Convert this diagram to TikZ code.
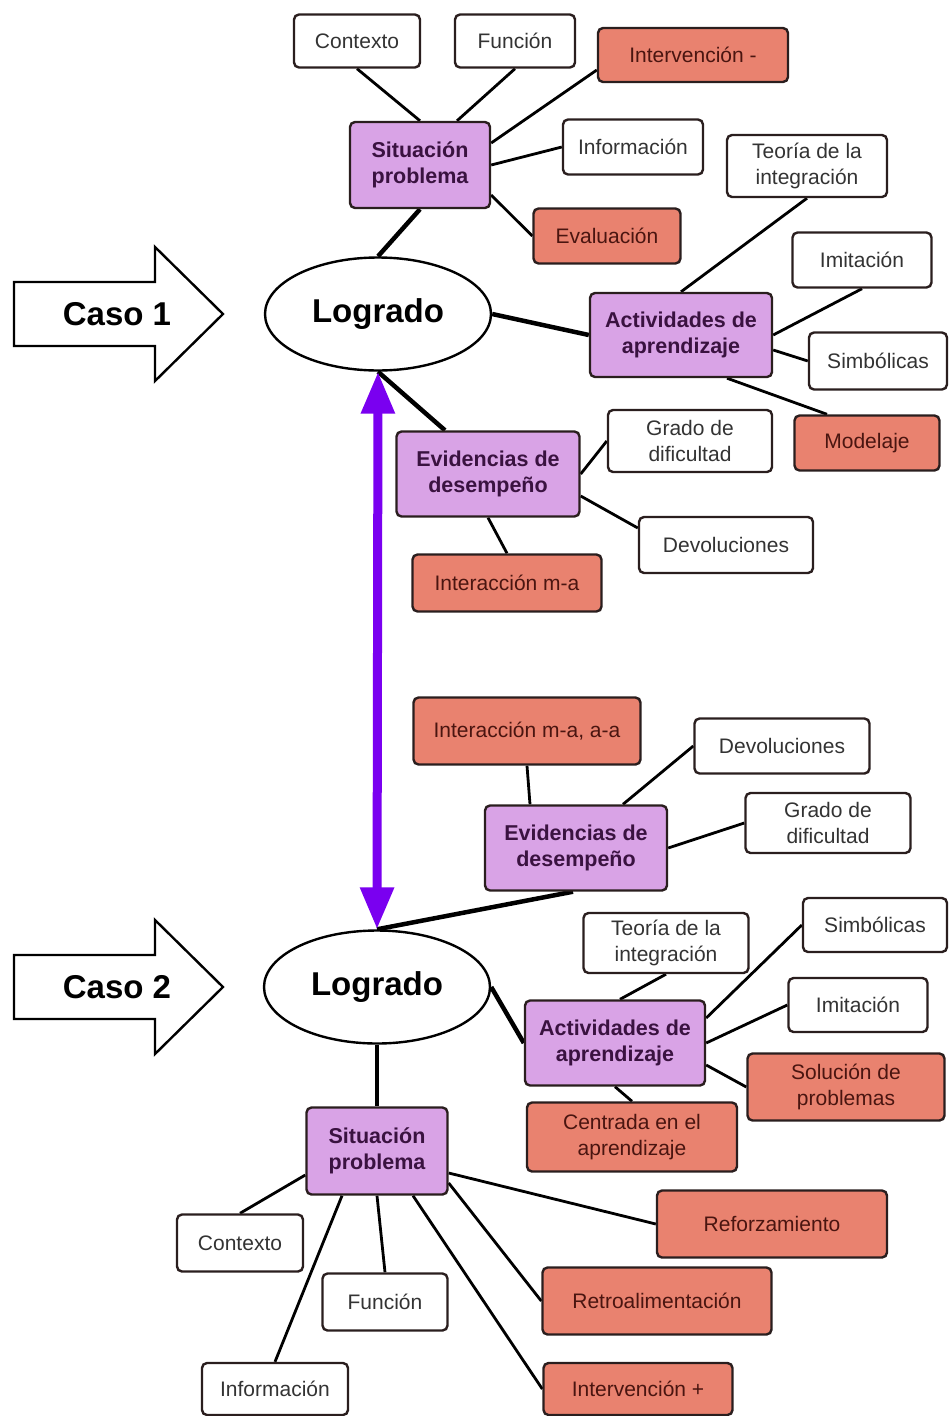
\documentclass[tikz,border=0pt]{standalone}
\usepackage{fontspec}
\setmainfont{Liberation Sans}
\usetikzlibrary{arrows.meta,calc,backgrounds,shapes.geometric}
\definecolor{purp}{HTML}{D9A3E6}
\definecolor{salm}{HTML}{E9826F}
\definecolor{bord}{HTML}{2A1E1E}
\definecolor{purptext}{HTML}{3A1240}
\definecolor{salmtext}{HTML}{4A1510}
\definecolor{graytext}{HTML}{333333}
\definecolor{arrowviolet}{HTML}{7A00F0}
\begin{document}
\begin{tikzpicture}[x=1pt,y=-1pt,
  base/.style={draw=bord, line width=2.4pt, rounded corners=5pt, inner sep=0pt, align=center, font=\fontsize{21}{26}\selectfont},
  wbox/.style={base, fill=white, text=graytext},
  sbox/.style={base, fill=salm, text=salmtext},
  pbox/.style={base, fill=purp, text=purptext, font=\fontsize{21.5}{26}\selectfont\bfseries},
  sz/.style 2 args={minimum width=#1pt, minimum height=#2pt},
  oval/.style={ellipse, draw=black, line width=2.4pt, fill=white, inner sep=0pt, minimum width=226pt, minimum height=113pt, font=\fontsize{33}{36}\selectfont\bfseries},
  casearrow/.style={draw=black, line width=2.4pt, fill=white, line join=miter},
  casetext/.style={inner sep=0pt, font=\fontsize{33}{36}\selectfont\bfseries},
  lnk/.style={line width=2.8pt, draw=black},
  mainlnk/.style={line width=4.5pt, draw=black},
  dbl/.style={line width=9pt, draw=arrowviolet, {Triangle[width=32pt,length=42pt]}-{Triangle[width=32pt,length=42pt]}}
]
\useasboundingbox (0,0) rectangle (948,1416);

% ---------- Case 1 ----------
\draw[casearrow] (14,282) -- (155,282) -- (155,247) -- (223,314) -- (155,381) -- (155,346) -- (14,346) -- cycle;
\node[casetext] (caso1) at (117,314) {Caso 1};

\node[oval] (log1) at (378,314) {Logrado};

\node[wbox, sz={126}{53}] (ctx1) at (357,41) {Contexto};
\node[wbox, sz={120}{53}] (fun1) at (515,41) {Función};
\node[sbox, sz={190}{54}] (int1) at (693,55) {Intervención -};
\node[pbox, sz={140}{86}] (sp1) at (420,165) {Situación\\problema};
\node[wbox, sz={140}{55}] (inf1) at (633,147) {Información};
\node[sbox, sz={147}{55}] (eva1) at (607,236) {Evaluación};
\node[wbox, sz={160}{62}] (teo1) at (807,166) {Teoría de la\\integración};
\node[wbox, sz={139}{55}] (imi1) at (862,260) {Imitación};
\node[pbox, sz={182}{84}] (act1) at (681,335) {Actividades de\\aprendizaje};
\node[wbox, sz={138}{57}] (simb1) at (878,361) {Simbólicas};
\node[sbox, sz={145}{55}] (mod1) at (867,443) {Modelaje};
\node[wbox, sz={164}{62}] (grado1) at (690,441) {Grado de\\dificultad};
\node[pbox, sz={183}{85}] (evid1) at (488,474) {Evidencias de\\desempeño};
\node[wbox, sz={174}{56}] (devol1) at (726,545) {Devoluciones};
\node[sbox, sz={189}{57}] (inter1) at (507,583) {Interacción m-a};

% ---------- Case 2 ----------
\draw[casearrow] (14,955) -- (155,955) -- (155,920) -- (223,987) -- (155,1054) -- (155,1019) -- (14,1019) -- cycle;
\node[casetext] (caso2) at (117,987) {Caso 2};

\node[oval] (log2) at (377,987) {Logrado};

\node[sbox, sz={227}{67}] (inter2) at (527,731) {Interacción m-a, a-a};
\node[wbox, sz={175}{55}] (devol2) at (782,746) {Devoluciones};
\node[wbox, sz={165}{60}] (grado2) at (828,823) {Grado de\\dificultad};
\node[pbox, sz={182}{85}] (evid2) at (576,848) {Evidencias de\\desempeño};
\node[wbox, sz={165}{60}] (teo2) at (666,943) {Teoría de la\\integración};
\node[wbox, sz={144}{54}] (simb2) at (875,925) {Simbólicas};
\node[wbox, sz={139}{54}] (imi2) at (858,1005) {Imitación};
\node[pbox, sz={180}{85}] (act2) at (615,1043) {Actividades de\\aprendizaje};
\node[sbox, sz={197}{67}] (sol) at (846,1087) {Solución de\\problemas};
\node[sbox, sz={210}{69}] (cent) at (632,1137) {Centrada en el\\aprendizaje};
\node[pbox, sz={141}{87}] (sp2) at (377,1151) {Situación\\problema};
\node[wbox, sz={126}{57}] (ctx2) at (240,1243) {Contexto};
\node[wbox, sz={125}{57}] (fun2) at (385,1302) {Función};
\node[wbox, sz={146}{52}] (inf2) at (275,1389) {Información};
\node[sbox, sz={230}{67}] (refor) at (772,1224) {Reforzamiento};
\node[sbox, sz={229}{67}] (retro) at (657,1301) {Retroalimentación};
\node[sbox, sz={189}{52}] (intv) at (638,1389) {Intervención +};

% ---------- connectors ----------
\begin{scope}[on background layer]
  \draw[lnk] (ctx1.south) -- (sp1.north);
  \draw[lnk] (fun1.south) -- ($(sp1.north)+(37,0)$);
  \draw[lnk] ($(int1.west)+(0,15)$) -- ($(sp1.east)+(0,-22)$);
  \draw[lnk] (inf1.west) -- (sp1.east);
  \draw[lnk] (eva1.west) -- ($(sp1.east)+(0,30)$);
  \draw[mainlnk] (sp1.south) -- (log1.north);
  \draw[mainlnk] (log1.east) -- (act1.west);
  \draw[mainlnk] (log1.south) -- ($(evid1.north)+(-43,0)$);
  \draw[lnk] (act1.north) -- (teo1.south);
  \draw[lnk] (act1.east) -- (imi1.south);
  \draw[lnk] ($(act1.east)+(0,15)$) -- (simb1.west);
  \draw[lnk] ($(act1.south)+(46,0)$) -- ($(mod1.north)+(-40,0)$);
  \draw[lnk] (evid1.east) -- (grado1.west);
  \draw[lnk] ($(evid1.east)+(0,22)$) -- ($(devol1.west)+(0,-17)$);
  \draw[lnk] (evid1.south) -- (inter1.north);

  \draw[lnk] (inter2.south) -- ($(evid2.north)+(-46,0)$);
  \draw[lnk] ($(evid2.north)+(47,0)$) -- (devol2.west);
  \draw[lnk] (evid2.east) -- (grado2.west);
  \draw[mainlnk] ($(evid2.south)+(-3,0)$) -- (log2.north);
  \draw[mainlnk] (log2.east) -- (act2.west);
  \draw[lnk] ($(act2.north)+(5,0)$) -- (teo2.south);
  \draw[lnk] ($(act2.east)+(0,-25)$) -- (simb2.west);
  \draw[lnk] (act2.east) -- (imi2.west);
  \draw[lnk] ($(act2.east)+(0,22)$) -- (sol.west);
  \draw[lnk] (act2.south) -- (cent.north);
  \draw[mainlnk] (log2.south) -- (sp2.north);
  \draw[lnk] ($(sp2.west)+(0,24)$) -- (ctx2.north);
  \draw[lnk] (sp2.south) -- (fun2.north);
  \draw[lnk] ($(sp2.south)+(-35,0)$) -- (inf2.north);
  \draw[lnk] ($(sp2.south)+(36,0)$) -- (intv.west);
  \draw[lnk] ($(sp2.east)+(0,32)$) -- (retro.west);
  \draw[lnk] ($(sp2.east)+(0,22)$) -- (refor.west);
\end{scope}

% ---------- double arrow ----------
\draw[dbl] (log1.south) -- (log2.north);
\end{tikzpicture}
\end{document}
